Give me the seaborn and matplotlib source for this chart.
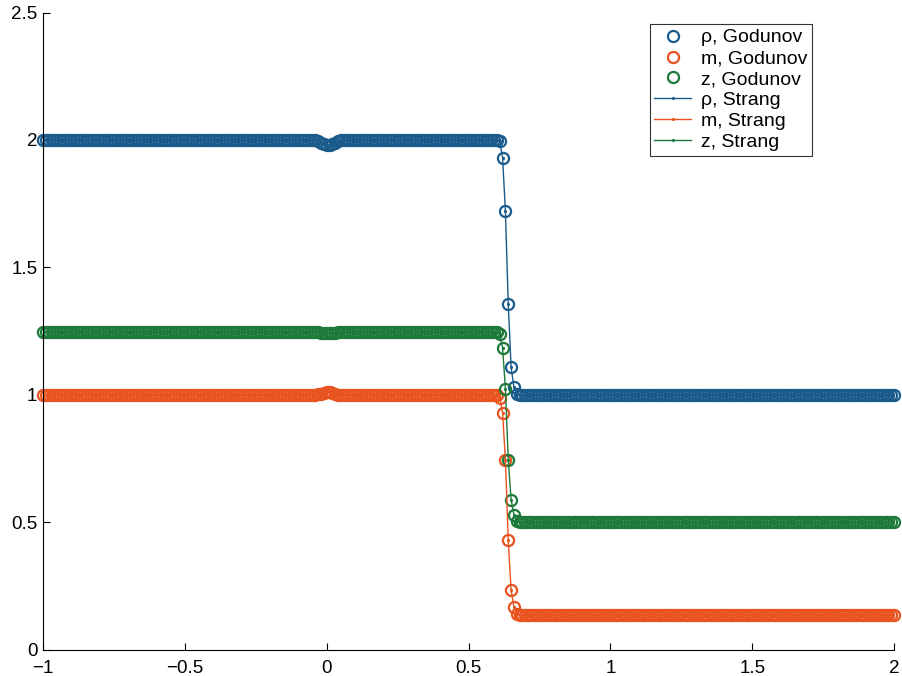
import numpy as np
import pandas as pd
import matplotlib
matplotlib.use("Agg")
import matplotlib.pyplot as plt
import seaborn as sns

# grid: x from -1 to 2, step 0.01
x = np.round(np.arange(-1.0, 2.0001, 0.01), 2)

# plateau levels
rho_left, rho_right = 2.0, 1.0
m_left, m_right = 1.0, 0.137
z_left, z_right = 1.247, 0.5

# small wiggle near x = 0 (x = -0.03 .. 0.04)
rho_dip = [1.996, 1.99, 1.984, 1.98, 1.98, 1.985, 1.99, 1.996]
m_bump = [1.002, 1.005, 1.009, 1.012, 1.011, 1.007, 1.004, 1.001]
z_dip = [1.246, 1.245, 1.243, 1.242, 1.242, 1.243, 1.245, 1.246]

# shock values at x = 0.60 .. 0.66
rho_shock = [1.995, 1.93, 1.72, 1.355, 1.11, 1.03, 1.005]
m_shock = [0.99, 0.93, 0.745, 0.43, 0.235, 0.17, 0.142]
z_shock = [1.24, 1.185, 1.025, 0.745, 0.59, 0.53, 0.505]


def build(left, dip, shock, right):
    n_left = 97            # -1.00 .. -0.04
    n_mid = 56             # 0.05 .. 0.59
    n_right = len(x) - n_left - len(dip) - n_mid - len(shock)
    return np.concatenate([np.full(n_left, left), dip, np.full(n_mid, left),
                           shock, np.full(n_right, right)])


rho = build(rho_left, rho_dip, rho_shock, rho_right)
m = build(m_left, m_bump, m_shock, m_right)
z = build(z_left, z_dip, z_shock, z_right)

colors = {"rho": "#1a5b8c", "m": "#e9531f", "z": "#1d7a3b"}

plt.rcParams["font.family"] = ["Liberation Sans", "DejaVu Sans"]
fig = plt.figure(figsize=(9.02, 6.76), dpi=100)
ax = fig.add_axes([0.0477, 0.0385, 0.9435, 0.943])

# Godunov: hollow circles
for name, y, lab in [("rho", rho, "ρ, Godunov"), ("m", m, "m, Godunov"), ("z", z, "z, Godunov")]:
    sns.lineplot(x=x, y=y, ax=ax, marker="o", linestyle="", markersize=8,
                 markerfacecolor="none", markeredgecolor=colors[name],
                 markeredgewidth=1.6, color=colors[name], label=lab, clip_on=False)

# Strang: thin line with dots
for name, y, lab in [("rho", rho, "ρ, Strang"), ("m", m, "m, Strang"), ("z", z, "z, Strang")]:
    sns.lineplot(x=x, y=y, ax=ax, marker=".", markersize=3, linewidth=1,
                 color=colors[name], markeredgecolor=colors[name], label=lab)

ax.set_xlim(-1, 2)
ax.set_ylim(0, 2.5)
ax.set_xticks([-1, -0.5, 0, 0.5, 1, 1.5, 2])
ax.set_xticklabels(["−1", "−0.5", "0", "0.5", "1", "1.5", "2"])
ax.set_yticks([0, 0.5, 1, 1.5, 2, 2.5])
ax.set_yticklabels(["0", "0.5", "1", "1.5", "2", "2.5"])
ax.tick_params(direction="in", length=5, labelsize=13.5)
ax.tick_params(axis="x", pad=7)
ax.tick_params(axis="y", pad=4)
for s in ["top", "right"]:
    ax.spines[s].set_visible(False)
ax.set_xlabel("")
ax.set_ylabel("")

leg = ax.legend(loc="upper right", bbox_to_anchor=(0.904, 0.982), fontsize=14,
                frameon=True, fancybox=False, edgecolor="black",
                handlelength=1.9, handletextpad=0.5, labelspacing=0.17,
                borderpad=0.25, borderaxespad=0)
leg.get_frame().set_linewidth(0.8)

fig.savefig("out.png", dpi=100)
